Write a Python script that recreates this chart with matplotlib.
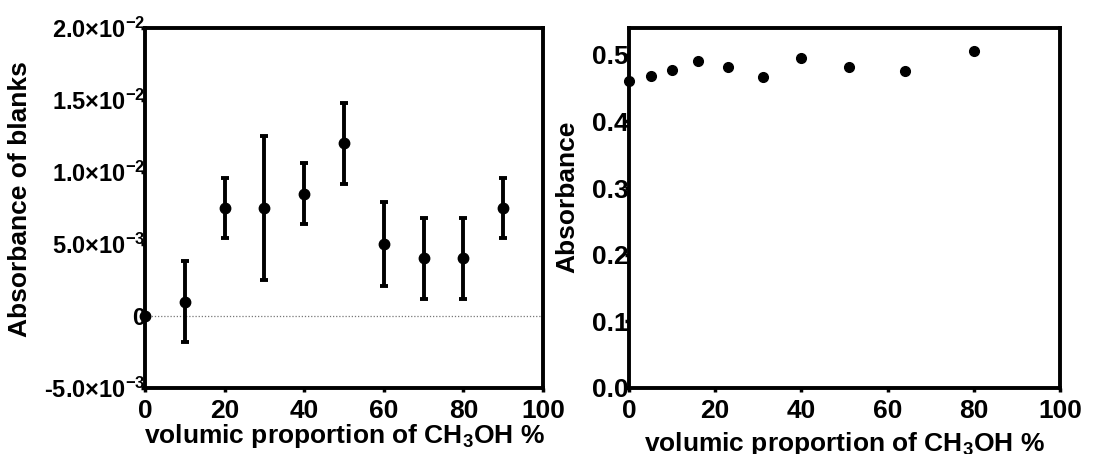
import matplotlib
matplotlib.use("Agg")
import matplotlib.pyplot as plt
from matplotlib.patches import Rectangle

plt.rcParams['font.family'] = ['Liberation Sans', 'DejaVu Sans']
plt.rcParams['font.weight'] = 'bold'
plt.rcParams['mathtext.fontset'] = 'custom'
plt.rcParams['mathtext.rm'] = 'Liberation Sans:bold'
plt.rcParams['mathtext.it'] = 'Liberation Sans:bold'
plt.rcParams['mathtext.bf'] = 'Liberation Sans:bold'

# left panel: blanks with error bars
blank_x = [0, 10, 20, 30, 40, 50, 60, 70, 80, 90]
blank_y = [0.0, 0.001, 0.0075, 0.0075, 0.0085, 0.012, 0.005, 0.004, 0.004, 0.0075]
blank_err = [0.0, 0.0028, 0.0021, 0.005, 0.0021, 0.0028, 0.0029, 0.0028, 0.0028, 0.0021]
blank_ticks = [-0.005, 0, 0.005, 0.01, 0.015, 0.02]
blank_ticklabels = ['-5.0×10$^{-3}$', '0', '5.0×10$^{-3}$', '1.0×10$^{-2}$',
                    '1.5×10$^{-2}$', '2.0×10$^{-2}$']

# right panel: absorbance
abs_x = [0, 5, 10, 16, 23, 31, 40, 51, 64, 80]
abs_y = [0.461, 0.468, 0.4775, 0.49, 0.481, 0.467, 0.4955, 0.482, 0.4755, 0.506]
abs_ticks = [0.0, 0.1, 0.2, 0.3, 0.4, 0.5]

x_ticks = [0, 20, 40, 60, 80, 100]
xlabel = 'volumic proportion of CH$_3$OH %'

fig = plt.figure(figsize=(11.16, 4.54), dpi=100)
ax1 = fig.add_axes([0.1299, 0.1454, 0.3567, 0.7929])
ax2 = fig.add_axes([0.5636, 0.1454, 0.3862, 0.7929])


def style(ax, ysize):
    for s in ax.spines.values():
        s.set_linewidth(2.8)
        s.set_zorder(6)
    # white cover so tick labels look clipped by the frame
    ax.add_patch(Rectangle((0, 0), 1, 1, transform=ax.transAxes, fc='white',
                           ec='none', zorder=2.6, clip_on=False))
    ax.tick_params(axis='x', direction='out', length=3, width=2.5, pad=5, labelsize=19)
    ax.tick_params(axis='y', direction='out', length=3, width=2.5, pad=-3, labelsize=ysize)
    ax.set_xlim(0, 100)
    ax.set_xticks(x_ticks)


style(ax1, 17)
ax1.set_ylim(-0.005, 0.02)
ax1.set_yticks(blank_ticks)
ax1.set_yticklabels(blank_ticklabels)
ax1.axhline(0, color='#777777', lw=0.9, ls=(0, (1, 1.5)), zorder=3)
ax1.errorbar(blank_x, blank_y, yerr=blank_err, fmt='o', color='black', ms=7.5,
             elinewidth=2.8, capsize=3.2, capthick=2.8, zorder=5, clip_on=False)
ax1.set_xlabel(xlabel, fontsize=19, fontweight='bold', labelpad=-1)
ax1.set_ylabel('Absorbance of blanks', fontsize=19, fontweight='bold')
ax1.yaxis.set_label_coords(-0.285, 0.525)

style(ax2, 19)
ax2.set_ylim(0, 0.54)
ax2.set_yticks(abs_ticks)
ax2.set_yticklabels(['%.1f' % v for v in abs_ticks])
ax2.plot(abs_x, abs_y, 'o', color='black', ms=7, zorder=5, clip_on=False)
ax2.set_xlabel(xlabel, fontsize=19, fontweight='bold', labelpad=5)
ax2.set_ylabel('Absorbance', fontsize=19, fontweight='bold')
ax2.yaxis.set_label_coords(-0.116, 0.53)

fig.savefig('out.png', dpi=100)
